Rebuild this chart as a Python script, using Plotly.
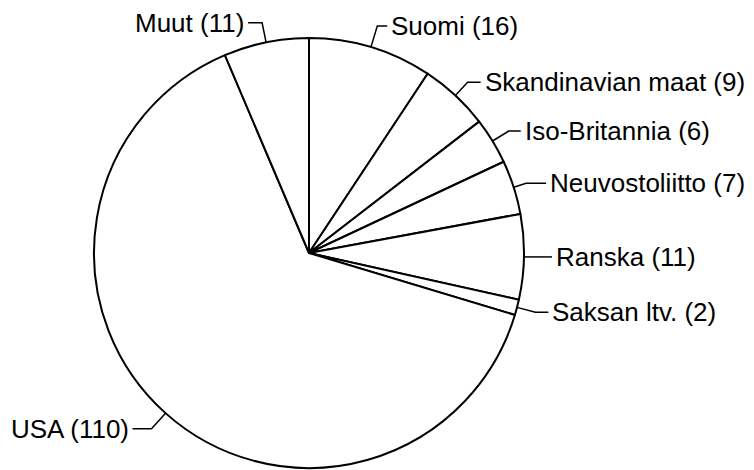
import numpy as np
import plotly.graph_objects as go

# kävijät maittain
labels = ["Suomi", "Skandinavian maat", "Iso-Britannia", "Neuvostoliitto",
          "Ranska", "Saksan ltv.", "USA", "Muut"]
values = [16, 9, 6, 7, 11, 2, 110, 11]

W, H = 754, 470
OFF = 8  # page body margin shifts the plot
cx, cy, r = 309, 253, 215  # pie centre / radius in px (as seen on screen)

# leader line style per label: radial elbow length, horizontal tail length
elbow = [22, 18, 19, 13, 0, 19, 21, 20]
tail = [10, 13, 12, 20, 28, 13, 19, 14]


def px(x, y):
  return (x - OFF) / W, 1 - (y - OFF) / H


x0, y0 = px(cx - r, cy + r)
x1, y1 = px(cx + r, cy - r)

fig = go.Figure(go.Pie(
  values=values, labels=labels, sort=False, direction="clockwise", rotation=0,
  marker=dict(colors=["white"] * len(values), line=dict(color="black", width=2)),
  textinfo="none", hoverinfo="skip", showlegend=False,
  domain=dict(x=[x0, x1], y=[y0, y1]),
))

total = sum(values)
cum = np.cumsum(values)
mids = (cum - np.array(values) / 2) / total * 2 * np.pi

for lab, v, a, e, t in zip(labels, values, mids, elbow, tail):
  s, c = np.sin(a), np.cos(a)
  ax, ay = cx + r * s, cy - r * c
  ex, ey = ax + e * s, ay - e * c
  side = 1 if s >= 0 else -1
  tx = ex + side * t
  p0, p1, p2 = px(ax, ay), px(ex, ey), px(tx, ey)
  fig.add_shape(type="path", xref="paper", yref="paper",
                path=f"M {p0[0]},{p0[1]} L {p1[0]},{p1[1]} L {p2[0]},{p2[1]}",
                line=dict(color="black", width=1.5))
  lx, ly = px(tx + side * 2, ey)
  fig.add_annotation(x=lx, y=ly, xref="paper", yref="paper",
                     text=f"{lab} ({v})", showarrow=False,
                     xanchor="left" if side > 0 else "right", yanchor="middle",
                     font=dict(family="Liberation Sans, Arial", size=26, color="black"))

fig.update_layout(width=W, height=H, margin=dict(l=0, r=0, t=0, b=0),
                  paper_bgcolor="white", plot_bgcolor="white", showlegend=False)

fig.write_html("out.html")
